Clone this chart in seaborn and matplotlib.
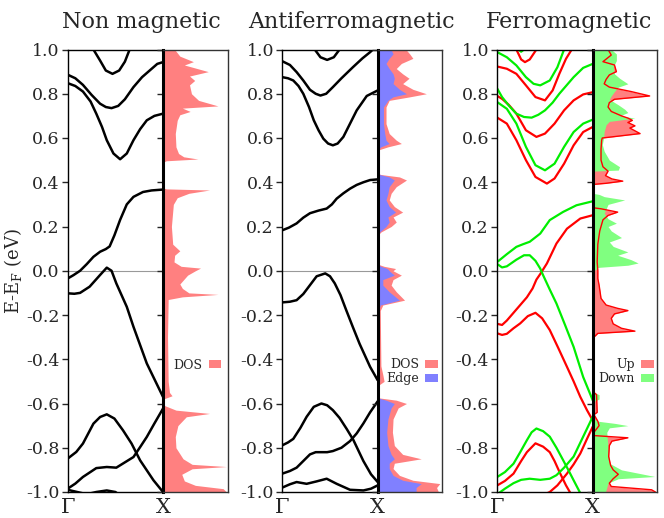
import numpy as np
import pandas as pd
import matplotlib
matplotlib.use("Agg")
import matplotlib.pyplot as plt
from matplotlib.patches import Patch
import seaborn as sns

sns.set_style("white")
plt.rcParams["font.family"] = ["DejaVu Serif"]
plt.rcParams["mathtext.fontset"] = "dejavuserif"

# ---------------- data ----------------
TITLES = ["Non magnetic", "Antiferromagnetic", "Ferromagnetic"]
KLABELS = [r"$\Gamma$", "X"]
YTICKS = [-1.0, -0.8, -0.6, -0.4, -0.2, 0.0, 0.2, 0.4, 0.6, 0.8, 1.0]

# Non magnetic bands (k from Gamma=0 to X=1, energy in eV)
NM_BANDS = {
    "A": ([0.20, 0.27, 0.34, 0.40, 0.47, 0.54, 0.60, 0.65, 0.70],
          [1.06, 1.0, 0.95, 0.905, 0.89, 0.905, 0.945, 1.0, 1.06]),
    "B": ([0, 0.08, 0.16, 0.25, 0.34, 0.40, 0.46, 0.53, 0.60, 0.69, 0.78, 0.86, 0.94, 1.0],
          [0.886, 0.87, 0.84, 0.795, 0.755, 0.74, 0.735, 0.745, 0.775, 0.83, 0.875, 0.905, 0.935, 0.943]),
    "C": ([0, 0.08, 0.16, 0.24, 0.30, 0.36, 0.41, 0.48, 0.55, 0.62, 0.69, 0.76, 0.83, 0.91, 1.0],
          [0.848, 0.835, 0.81, 0.765, 0.71, 0.65, 0.59, 0.53, 0.504, 0.53, 0.59, 0.64, 0.68, 0.70, 0.71]),
    "D": ([0, 0.06, 0.13, 0.20, 0.27, 0.34, 0.40, 0.44, 0.49, 0.55, 0.62, 0.69, 0.79, 0.88, 1.0],
          [-0.035, -0.02, 0.0, 0.03, 0.063, 0.086, 0.098, 0.11, 0.16, 0.23, 0.30, 0.334, 0.356, 0.363, 0.367]),
    "E": ([0, 0.07, 0.13, 0.23, 0.34, 0.41, 0.46, 0.51, 0.62, 0.69, 0.83, 1.0],
          [-0.102, -0.104, -0.1, -0.072, -0.019, 0.014, 0.0, -0.057, -0.163, -0.253, -0.419, -0.57]),
    "F": ([0, 0.09, 0.16, 0.27, 0.34, 0.41, 0.49, 0.58, 0.67, 0.76, 0.9, 1.0],
          [-0.849, -0.819, -0.781, -0.691, -0.661, -0.649, -0.668, -0.721, -0.781, -0.857, -0.947, -1.0]),
    "G": ([0, 0.08, 0.16, 0.30, 0.41, 0.51, 0.69, 0.76, 0.83, 0.91, 1.0],
          [-0.985, -0.962, -0.932, -0.892, -0.887, -0.89, -0.842, -0.797, -0.751, -0.69, -0.623]),
    "H": ([0, 0.1, 0.2, 0.3, 0.41, 0.5, 0.6],
          [-0.99, -1.0, -1.01, -1.0, -0.993, -1.0, -1.03]),
}

AFM_BANDS = {
    "A": ([0.30, 0.34, 0.40, 0.47, 0.54, 0.60, 0.65],
          [1.05, 1.0, 0.965, 0.953, 0.965, 1.0, 1.05]),
    "B": ([0, 0.08, 0.15, 0.22, 0.29, 0.35, 0.40, 0.46, 0.53, 0.62, 0.74, 0.84, 0.92, 1.0],
          [0.947, 0.93, 0.898, 0.86, 0.818, 0.80, 0.792, 0.80, 0.83, 0.87, 0.92, 0.96, 0.988, 1.02]),
    "C": ([0, 0.06, 0.115, 0.17, 0.22, 0.28, 0.33, 0.38, 0.43, 0.48, 0.53, 0.58, 0.64, 0.71, 0.78, 0.885, 1.0],
          [0.875, 0.87, 0.86, 0.835, 0.80, 0.74, 0.68, 0.635, 0.597, 0.575, 0.567, 0.575, 0.605, 0.665, 0.725, 0.79, 0.815]),
    "D": ([0, 0.07, 0.15, 0.22, 0.29, 0.38, 0.465, 0.52, 0.57, 0.64, 0.71, 0.78, 0.85, 0.92, 1.0],
          [0.183, 0.195, 0.214, 0.24, 0.26, 0.272, 0.281, 0.30, 0.326, 0.35, 0.371, 0.388, 0.40, 0.41, 0.413]),
    "E": ([0, 0.08, 0.15, 0.22, 0.29, 0.36, 0.45, 0.50, 0.55, 0.61, 0.67, 0.74, 0.81, 0.92, 1.0],
          [-0.143, -0.14, -0.133, -0.105, -0.065, -0.025, -0.012, -0.025, -0.057, -0.11, -0.178, -0.255, -0.33, -0.434, -0.495]),
    "F": ([0, 0.06, 0.115, 0.19, 0.255, 0.33, 0.41, 0.47, 0.53, 0.60, 0.675, 0.745, 0.85, 0.93, 1.0],
          [-0.789, -0.776, -0.76, -0.71, -0.66, -0.615, -0.6, -0.608, -0.63, -0.665, -0.715, -0.765, -0.86, -0.92, -0.955]),
    "G": ([0, 0.08, 0.15, 0.22, 0.29, 0.35, 0.40, 0.47, 0.53, 0.62, 0.71, 0.78, 0.85, 0.92, 1.0],
          [-0.917, -0.905, -0.89, -0.86, -0.83, -0.82, -0.82, -0.82, -0.815, -0.8, -0.77, -0.735, -0.69, -0.64, -0.59]),
    "H": ([0, 0.08, 0.15, 0.255, 0.36, 0.465, 0.57, 0.71, 0.85, 0.93, 1.0],
          [-0.98, -0.965, -0.955, -0.963, -0.952, -0.94, -0.963, -0.99, -0.993, -0.985, -0.97]),
}

FM_UP_BANDS = {
    "A": ([0.15, 0.20, 0.25, 0.29, 0.34, 0.41, 0.46],
          [1.06, 1.0, 0.955, 0.943, 0.955, 1.0, 1.06]),
    "B": ([0, 0.1, 0.2, 0.3, 0.4, 0.5, 0.58, 0.65, 0.72, 0.78, 0.85],
          [0.923, 0.913, 0.89, 0.838, 0.785, 0.77, 0.815, 0.89, 0.958, 1.0, 1.06]),
    "C": ([0, 0.05, 0.12, 0.2, 0.3, 0.41, 0.5, 0.6, 0.7, 0.8, 0.9, 1.0],
          [0.79, 0.777, 0.75, 0.71, 0.635, 0.605, 0.62, 0.665, 0.725, 0.77, 0.797, 0.807]),
    "D": ([0, 0.1, 0.2, 0.3, 0.4, 0.52, 0.6, 0.7, 0.8, 0.9, 1.0],
          [0.692, 0.665, 0.59, 0.5, 0.424, 0.394, 0.417, 0.484, 0.567, 0.627, 0.65]),
    "E": ([0, 0.05, 0.1, 0.17, 0.24, 0.31, 0.37, 0.41, 0.45, 0.52, 0.62, 0.73, 0.87, 1.0],
          [-0.24, -0.245, -0.225, -0.19, -0.155, -0.12, -0.08, -0.04, -0.015, 0.033, 0.123, 0.19, 0.236, 0.251]),
    "F": ([0, 0.05, 0.1, 0.17, 0.24, 0.32, 0.4, 0.47, 0.55, 0.64, 0.73, 0.8, 0.87, 0.94, 1.0],
          [-0.283, -0.29, -0.285, -0.26, -0.238, -0.205, -0.19, -0.215, -0.268, -0.35, -0.434, -0.5, -0.57, -0.63, -0.676]),
    "G": ([0, 0.08, 0.17, 0.25, 0.31, 0.4, 0.48, 0.55, 0.6, 0.66, 0.72, 0.76, 0.8],
          [-0.97, -0.95, -0.917, -0.86, -0.82, -0.78, -0.795, -0.82, -0.86, -0.917, -0.97, -1.0, -1.04]),
    "H": ([0.3, 0.45, 0.55, 0.63, 0.73, 0.8, 0.87, 0.94, 1.0],
          [-1.05, -1.02, -1.0, -0.97, -0.917, -0.875, -0.826, -0.76, -0.705]),
}

FM_DOWN_BANDS = {
    "T": ([0.18, 0.22, 0.25, 0.28, 0.32],
          [1.02, 1.0, 0.99, 1.0, 1.02]),
    "A": ([0, 0.1, 0.2, 0.3, 0.38, 0.45, 0.55, 0.63, 0.7, 0.75],
          [0.988, 0.965, 0.928, 0.875, 0.845, 0.838, 0.86, 0.92, 1.0, 1.05]),
    "B": ([0, 0.05, 0.12, 0.2, 0.28, 0.36, 0.43, 0.5, 0.58, 0.65, 0.73, 0.8, 0.9, 1.0],
          [0.823, 0.785, 0.747, 0.71, 0.695, 0.692, 0.705, 0.725, 0.76, 0.8, 0.84, 0.875, 0.917, 0.935]),
    "C": ([0, 0.1, 0.2, 0.3, 0.4, 0.5, 0.6, 0.7, 0.8, 0.9, 1.0],
          [0.762, 0.732, 0.665, 0.56, 0.477, 0.454, 0.484, 0.56, 0.627, 0.665, 0.683]),
    "D": ([0, 0.1, 0.2, 0.27, 0.34, 0.45, 0.55, 0.69, 0.83, 1.0],
          [0.04, 0.075, 0.108, 0.12, 0.131, 0.168, 0.229, 0.266, 0.296, 0.314]),
    "E": ([0, 0.05, 0.1, 0.2, 0.28, 0.34, 0.4, 0.45, 0.48, 0.55, 0.62, 0.71, 0.8, 0.9, 1.0],
          [0.03, 0.015, 0.02, 0.05, 0.07, 0.07, 0.045, 0.01, -0.02, -0.085, -0.148, -0.245, -0.344, -0.48, -0.585]),
    "F": ([0, 0.08, 0.17, 0.24, 0.31, 0.36, 0.41, 0.48, 0.55, 0.62, 0.69, 0.75, 0.8, 0.9],
          [-0.932, -0.91, -0.872, -0.82, -0.766, -0.73, -0.713, -0.725, -0.75, -0.8, -0.856, -0.905, -0.947, -1.03]),
    "G": ([0, 0.08, 0.17, 0.25, 0.34, 0.45, 0.55, 0.62, 0.7, 0.8, 0.9, 1.0],
          [-1.01, -0.985, -0.96, -0.945, -0.94, -0.945, -0.94, -0.924, -0.89, -0.84, -0.75, -0.66]),
}

# DOS (energy, width as fraction of DOS panel)
NM_DOS_E = [1.0, 0.97, 0.945, 0.93, 0.90, 0.88, 0.86, 0.84, 0.80, 0.77, 0.745, 0.735, 0.72, 0.705, 0.68,
            0.62, 0.56, 0.53, 0.515, 0.505, 0.497, 0.49, 0.375, 0.37, 0.365, 0.35, 0.33, 0.30, 0.20,
            0.12, 0.09, 0.07, 0.04, 0.02, 0.012, 0.0, -0.02, -0.06, -0.08, -0.10, -0.107, -0.118,
            -0.13, -0.3, -0.5, -0.55, -0.565, -0.575, -0.58, -0.60, -0.61, -0.63, -0.645, -0.66,
            -0.70, -0.75, -0.80, -0.85, -0.875, -0.885, -0.895, -0.92, -0.95, -0.97, -0.985, -1.0]
NM_DOS_W = [0.18, 0.26, 0.47, 0.33, 0.70, 0.41, 0.49, 0.41, 0.44, 0.55, 0.85, 0.30, 0.42, 0.26, 0.22,
            0.19, 0.20, 0.24, 0.32, 0.54, 0.05, 0.0, 0.0, 0.05, 0.72, 0.40, 0.22, 0.16, 0.13,
            0.15, 0.26, 0.18, 0.17, 0.28, 0.58, 0.50, 0.38, 0.26, 0.30, 0.40, 0.85, 0.30,
            0.08, 0.07, 0.08, 0.10, 0.14, 0.05, 0.0, 0.0, 0.03, 0.20, 0.72, 0.36,
            0.23, 0.19, 0.20, 0.31, 0.45, 0.98, 0.45, 0.29, 0.33, 0.50, 0.93, 0.98]

AFM_DOS_E = [1.0, 0.98, 0.96, 0.937, 0.914, 0.89, 0.87, 0.846, 0.82, 0.80, 0.786, 0.77, 0.74, 0.665,
             0.62, 0.59, 0.575, 0.56, 0.545, 0.44, 0.435, 0.424, 0.41, 0.38, 0.35, 0.32, 0.29, 0.265,
             0.243, 0.22, 0.20, 0.175, 0.16, 0.03, 0.02, 0.01, 0.0, -0.02, -0.04, -0.065, -0.095,
             -0.133, -0.155, -0.18, -0.43, -0.47, -0.50, -0.52, -0.57, -0.575, -0.585, -0.60, -0.62,
             -0.67, -0.73, -0.79, -0.83, -0.85, -0.87, -0.894, -0.925, -0.947, -0.962, -0.98, -1.0]
AFM_DOS_W = [0.44, 0.50, 0.55, 0.37, 0.29, 0.39, 0.49, 0.39, 0.55, 0.76, 0.50, 0.18, 0.13, 0.13,
             0.18, 0.29, 0.37, 0.16, 0.0, 0.0, 0.05, 0.34, 0.45, 0.29, 0.21, 0.18, 0.26, 0.39,
             0.24, 0.29, 0.21, 0.05, 0.0, 0.0, 0.10, 0.28, 0.24, 0.37, 0.24, 0.21, 0.29,
             0.42, 0.08, 0.04, 0.05, 0.08, 0.10, 0.0, 0.0, 0.03, 0.29, 0.45, 0.32,
             0.24, 0.23, 0.26, 0.39, 0.68, 0.26, 0.24, 0.34, 0.55, 0.97, 0.92, 0.95]
AFM_EDGE_W = [0.21, 0.24, 0.18, 0.13, 0.18, 0.24, 0.26, 0.24, 0.34, 0.45, 0.24, 0.16, 0.09, 0.09,
              0.11, 0.13, 0.18, 0.05, 0.0, 0.0, 0.03, 0.18, 0.26, 0.18, 0.16, 0.13, 0.18, 0.28,
              0.16, 0.18, 0.13, 0.03, 0.0, 0.0, 0.05, 0.15, 0.18, 0.26, 0.08, 0.08, 0.18,
              0.34, 0.04, 0.015, 0.015, 0.03, 0.03, 0.0, 0.0, 0.01, 0.13, 0.26, 0.21,
              0.16, 0.14, 0.16, 0.21, 0.26, 0.18, 0.18, 0.24, 0.39, 0.68, 0.60, 0.60]

FM_UP_E = [1.0, 0.975, 0.945, 0.93, 0.90, 0.885, 0.865, 0.845, 0.83, 0.81, 0.79, 0.775, 0.76, 0.74,
           0.72, 0.70, 0.69, 0.68, 0.67, 0.655, 0.645, 0.62, 0.605, 0.60, 0.59, 0.55, 0.50, 0.47,
           0.45, 0.43, 0.415, 0.405, 0.395, 0.39, 0.285, 0.28, 0.265, 0.25, 0.23, 0.18, 0.12,
           0.04, 0.0, -0.035, -0.065, -0.125, -0.155, -0.17, -0.18, -0.195, -0.215, -0.24, -0.26,
           -0.273, -0.283, -0.30, -0.55, -0.56, -0.64, -0.65, -0.68, -0.70, -0.73, -0.745, -0.755,
           -0.77, -0.79, -0.84, -0.88, -0.90, -0.92, -0.94, -0.96, -0.975, -0.99, -1.0]
FM_UP_W = [0.24, 0.29, 0.16, 0.34, 0.37, 0.26, 0.21, 0.18, 0.26, 0.60, 0.89, 0.34, 0.26, 0.24,
           0.29, 0.45, 0.55, 0.62, 0.55, 0.66, 0.58, 0.74, 0.30, 0.15, 0.14, 0.13, 0.13, 0.16,
           0.24, 0.20, 0.30, 0.47, 0.20, 0.0, 0.0, 0.13, 0.39, 0.24, 0.16, 0.11, 0.08,
           0.07, 0.08, 0.08, 0.10, 0.13, 0.21, 0.39, 0.55, 0.34, 0.29, 0.32, 0.45,
           0.66, 0.08, 0.02, 0.02, 0.06, 0.07, 0.02, 0.08, 0.10, 0.02, 0.02, 0.55,
           0.30, 0.26, 0.25, 0.28, 0.32, 0.40, 0.32, 0.26, 0.29, 0.92, 0.98]

FM_DOWN_E = [1.0, 0.98, 0.95, 0.92, 0.89, 0.87, 0.845, 0.83, 0.81, 0.79, 0.775, 0.75, 0.73, 0.715,
             0.70, 0.69, 0.675, 0.66, 0.63, 0.60, 0.57, 0.54, 0.50, 0.47, 0.455, 0.45, 0.35, 0.345,
             0.335, 0.32, 0.30, 0.28, 0.26, 0.235, 0.215, 0.20, 0.18, 0.15, 0.13, 0.11, 0.085, 0.07,
             0.05, 0.035, 0.025, 0.015, 0.0, -0.55, -0.56, -0.58, -0.59, -0.67, -0.68, -0.69, -0.70,
             -0.71, -0.73, -0.80, -0.87, -0.90, -0.92, -0.93, -0.94, -0.96, -1.0]
FM_DOWN_W = [0.29, 0.37, 0.37, 0.32, 0.34, 0.42, 0.55, 0.40, 0.34, 0.29, 0.26, 0.40, 0.50, 0.55,
             0.42, 0.66, 0.26, 0.21, 0.18, 0.17, 0.15, 0.18, 0.26, 0.42, 0.40, 0.0, 0.0, 0.10,
             0.18, 0.50, 0.24, 0.21, 0.18, 0.24, 0.37, 0.24, 0.29, 0.45, 0.26, 0.32, 0.55, 0.39,
             0.60, 0.71, 0.55, 0.08, 0.02, 0.02, 0.10, 0.10, 0.02, 0.02, 0.08, 0.35, 0.55,
             0.26, 0.22, 0.24, 0.26, 0.45, 0.80, 0.97, 0.40, 0.24, 0.20]

LEG_NM = ["DOS"]
LEG_AFM = ["DOS", "Edge"]
LEG_FM = ["Up", "Down"]

RED_FILL = "#ff8080"
BLUE_FILL = "#8080ff"
GREEN_FILL = "#80ff80"
BAND_RED = "#ff0000"
BAND_GREEN = "#00ee00"

# ---------------- figure ----------------
W, H = 664, 518
fig = plt.figure(figsize=(W / 100, H / 100), dpi=100)


def fx(px):
    return px / W


def fy(py):
    return 1 - py / H


top_px, bot_px = 49.5, 492.0
bh = (bot_px - top_px) / H
panels = [(67.7, 163.0, 227.7), (282.3, 377.7, 441.7), (497.3, 592.7, 656.7)]
title_x = [141, 351.5, 569]


def bands_df(bands):
    rows = []
    for name, (k, e) in bands.items():
        for kk, ee in zip(k, e):
            rows.append({"band": name, "k": kk, "E": ee})
    return pd.DataFrame(rows)


def style_band_ax(ax, first):
    ax.set_xlim(0, 1)
    ax.set_ylim(-1, 1)
    ax.set_yticks(YTICKS)
    ax.set_yticklabels([f"{v:.1f}" for v in YTICKS], fontsize=12.5)
    ax.set_xticks([0, 1])
    ax.set_xticklabels(KLABELS, fontsize=15)
    ax.tick_params(axis="x", length=0, pad=4)
    ax.tick_params(axis="y", direction="out", length=4, width=1, pad=2, left=True, right=False)
    for s in ax.spines.values():
        s.set_color("black")
        s.set_linewidth(1.0)
    ax.axhline(0, color="#999999", lw=0.8, zorder=0)
    ax.set_xlabel("")
    ax.set_ylabel("")
    if first:
        ax.set_ylabel(r"E-E$_\mathrm{F}$ (eV)", fontsize=13, labelpad=1)
    if ax.get_legend():
        ax.get_legend().remove()


def style_dos_ax(ax):
    ax.set_xlim(0, 1)
    ax.set_ylim(-1, 1)
    ax.set_xticks([])
    ax.set_yticks(YTICKS)
    ax.set_yticklabels([])
    ax.tick_params(axis="y", direction="out", length=4, width=1, left=True, right=False)
    for s in ax.spines.values():
        s.set_color("#333333")
        s.set_linewidth(1.0)
    ax.spines["left"].set_color("black")
    ax.spines["left"].set_linewidth(2.2)


all_bands = [NM_BANDS, AFM_BANDS, None]
for i, (l, d, r) in enumerate(panels):
    axb = fig.add_axes([fx(l), fy(bot_px), fx(d - l), bh])
    axd = fig.add_axes([fx(d), fy(bot_px), fx(r - d), bh])

    if i < 2:
        df = bands_df(all_bands[i])
        sns.lineplot(data=df, x="k", y="E", units="band", estimator=None, sort=False,
                     color="black", lw=1.8, ax=axb)
    else:
        dfu = bands_df(FM_UP_BANDS)
        dfd = bands_df(FM_DOWN_BANDS)
        sns.lineplot(data=dfu, x="k", y="E", units="band", estimator=None, sort=False,
                     color=BAND_RED, lw=1.6, ax=axb)
        sns.lineplot(data=dfd, x="k", y="E", units="band", estimator=None, sort=False,
                     color=BAND_GREEN, lw=1.6, ax=axb)
    style_band_ax(axb, i == 0)

    if i == 0:
        axd.fill_betweenx(NM_DOS_E, 0, NM_DOS_W, color=RED_FILL, lw=0)
        handles = [Patch(facecolor=RED_FILL, edgecolor="none")]
        labels = LEG_NM
        anchor = (0.90, 0.287)
    elif i == 1:
        axd.fill_betweenx(AFM_DOS_E, 0, AFM_DOS_W, color=RED_FILL, lw=0)
        axd.fill_betweenx(AFM_DOS_E, 0, AFM_EDGE_W, color=BLUE_FILL, lw=0)
        handles = [Patch(facecolor=RED_FILL, edgecolor="none"),
                   Patch(facecolor=BLUE_FILL, edgecolor="none")]
        labels = LEG_AFM
        anchor = (0.94, 0.272)
    else:
        axd.fill_betweenx(FM_UP_E, 0, FM_UP_W, color=RED_FILL, lw=0)
        axd.fill_betweenx(FM_DOWN_E, 0, FM_DOWN_W, color=GREEN_FILL, lw=0)
        sns.lineplot(x=FM_UP_W, y=FM_UP_E, sort=False, estimator=None, color=BAND_RED,
                     lw=1.0, ax=axd)
        handles = [Patch(facecolor=RED_FILL, edgecolor="none"),
                   Patch(facecolor=GREEN_FILL, edgecolor="none")]
        labels = LEG_FM
        anchor = (0.95, 0.272)
    style_dos_ax(axd)
    axd.set_xlabel("")
    axd.set_ylabel("")
    axd.legend(handles, labels, loc="center right", bbox_to_anchor=anchor, frameon=False,
               markerfirst=False, fontsize=9, handlelength=1.0, handleheight=0.6,
               handletextpad=0.5, borderaxespad=0, borderpad=0, labelspacing=0.1)

    fig.text(fx(title_x[i]), fy(28), TITLES[i], ha="center", va="baseline", fontsize=16)

fig.savefig("out.png", dpi=100)
